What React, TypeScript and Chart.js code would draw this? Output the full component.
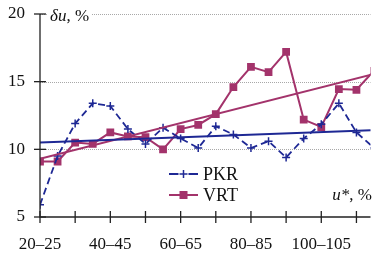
import React, { useEffect, useRef } from 'react';
import { Chart, registerables } from 'chart.js';

Chart.register(...registerables);

const categories = [
  '20–25', '25–30', '30–35', '35–40', '40–45', '45–50', '50–55', '55–60', '60–65', '65–70',
  '70–75', '75–80', '80–85', '85–90', '90–95', '95–100', '100–105', '105–110', '110–115', '115–120',
];
const pkrValues = [5.9, 9.5, 11.9, 13.4, 13.2, 11.5, 10.4, 11.6, 10.8, 10.1, 11.7, 11.1, 10.1, 10.6, 9.4, 10.8, 11.85, 13.4, 11.25, 10.1];
const vrtValues = [9.1, 9.1, 10.5, 10.4, 11.25, 10.95, 10.9, 10.0, 11.5, 11.8, 12.6, 14.6, 16.1, 15.7, 17.2, 12.2, 11.65, 14.45, 14.4, 15.8];
const pkrTrend = [10.5, 11.41];
const vrtTrend = [9.3, 15.57];
const yTickValues = [5, 10, 15, 20];
const seriesNames = ['PKR', 'VRT'];
const yTitle = ['δu', ', %'];
const xTitle = ['u*', ', %'];

const BLUE = '#1e2894';
const PINK = '#a3336b';
const SERIF = '"Liberation Serif", "DejaVu Serif", serif';
const X_MAX = 18.8;

const toPoints = (vals: number[]) => vals.map((v, i) => ({ x: i, y: v }));
const trendPoints = (t: number[]) => [
  { x: 0, y: t[0] },
  { x: categories.length - 1, y: t[1] },
];

const decor = {
  id: 'decor',
  beforeDatasetsDraw(chart: any) {
    const { ctx, chartArea, scales } = chart;
    const y = scales.y;
    ctx.save();
    ctx.strokeStyle = '#a8a8a8';
    ctx.lineWidth = 1;
    ctx.setLineDash([1, 1]);
    yTickValues.forEach((v) => {
      if (v === y.min) return;
      const py = Math.round(y.getPixelForValue(v)) + 0.5;
      ctx.beginPath();
      ctx.moveTo(chartArea.left, py);
      ctx.lineTo(chartArea.right, py);
      ctx.stroke();
    });
    ctx.restore();
  },
  afterDatasetsDraw(chart: any) {
    const { ctx, chartArea, scales } = chart;
    const x = scales.x;
    const y = scales.y;
    ctx.save();
    ctx.strokeStyle = '#222';
    ctx.lineWidth = 1.3;
    ctx.setLineDash([]);
    // axes
    ctx.beginPath();
    ctx.moveTo(chartArea.left, chartArea.top);
    ctx.lineTo(chartArea.left, chartArea.bottom);
    ctx.lineTo(chartArea.right, chartArea.bottom);
    ctx.stroke();
    // y ticks
    y.ticks.forEach((t: any) => {
      const py = y.getPixelForValue(t.value);
      ctx.beginPath();
      ctx.moveTo(chartArea.left - 6, py);
      ctx.lineTo(chartArea.left + 6, py);
      ctx.stroke();
    });
    // x ticks
    x.ticks.forEach((t: any) => {
      const px = x.getPixelForValue(t.value);
      ctx.beginPath();
      ctx.moveTo(px, chartArea.bottom - 6);
      ctx.lineTo(px, chartArea.bottom + 6);
      ctx.stroke();
    });

    // y title
    ctx.fillStyle = '#111';
    ctx.textBaseline = 'alphabetic';
    ctx.textAlign = 'left';
    ctx.font = `italic 17px ${SERIF}`;
    const yw1 = ctx.measureText(yTitle[0]).width;
    ctx.font = `17px ${SERIF}`;
    const yw2 = ctx.measureText(yTitle[1]).width;
    const ty = chartArea.top + 7;
    const tx = chartArea.left + 10;
    ctx.fillStyle = '#fff';
    ctx.fillRect(tx - 2, ty - 14, yw1 + yw2 + 4, 18);
    ctx.fillStyle = '#111';
    ctx.font = `italic 17px ${SERIF}`;
    ctx.fillText(yTitle[0], tx, ty);
    ctx.font = `17px ${SERIF}`;
    ctx.fillText(yTitle[1], tx + yw1, ty);

    // x title
    ctx.font = `italic 17px ${SERIF}`;
    const xw1 = ctx.measureText(xTitle[0]).width;
    ctx.font = `17px ${SERIF}`;
    const xw2 = ctx.measureText(xTitle[1]).width;
    const xx = 372 - xw1 - xw2;
    const xy = chartArea.bottom - 17;
    ctx.font = `italic 17px ${SERIF}`;
    ctx.fillText(xTitle[0], xx, xy);
    ctx.font = `17px ${SERIF}`;
    ctx.fillText(xTitle[1], xx + xw1, xy);

    // legend
    const lx0 = 169;
    const lx1 = 198;
    const lc = (lx0 + lx1) / 2;
    const ly = [chartArea.bottom - 43, chartArea.bottom - 22];
    // PKR
    ctx.strokeStyle = BLUE;
    ctx.lineWidth = 1.8;
    ctx.beginPath();
    ctx.moveTo(lx0, ly[0]);
    ctx.lineTo(lc - 5, ly[0]);
    ctx.moveTo(lc + 5, ly[0]);
    ctx.lineTo(lx1, ly[0]);
    ctx.stroke();
    ctx.lineWidth = 1.5;
    ctx.beginPath();
    ctx.moveTo(lc - 4, ly[0]);
    ctx.lineTo(lc + 4, ly[0]);
    ctx.moveTo(lc, ly[0] - 4);
    ctx.lineTo(lc, ly[0] + 4);
    ctx.stroke();
    // VRT
    ctx.strokeStyle = PINK;
    ctx.lineWidth = 2;
    ctx.beginPath();
    ctx.moveTo(lx0, ly[1]);
    ctx.lineTo(lx1, ly[1]);
    ctx.stroke();
    ctx.fillStyle = PINK;
    ctx.fillRect(lc - 4, ly[1] - 4, 8, 8);

    ctx.fillStyle = '#111';
    ctx.font = `18px ${SERIF}`;
    ctx.textBaseline = 'middle';
    ctx.fillText(seriesNames[0], 203, ly[0] + 1);
    ctx.fillText(seriesNames[1], 203, ly[1] + 1);
    ctx.restore();
  },
};

export default function App() {
  const ref = useRef<HTMLCanvasElement>(null);

  useEffect(() => {
    const chart = new Chart(ref.current as HTMLCanvasElement, {
      type: 'line',
      data: {
        datasets: [
          {
            label: 'PKR trend',
            data: trendPoints(pkrTrend),
            borderColor: BLUE,
            borderWidth: 2,
            pointRadius: 0,
            fill: false,
          },
          {
            label: 'VRT trend',
            data: trendPoints(vrtTrend),
            borderColor: PINK,
            borderWidth: 2,
            pointRadius: 0,
            fill: false,
          },
          {
            label: seriesNames[0],
            data: toPoints(pkrValues),
            borderColor: BLUE,
            backgroundColor: BLUE,
            borderWidth: 1.8,
            borderDash: [7, 4],
            pointStyle: 'cross',
            pointRadius: 4,
            pointBorderWidth: 1.5,
            pointBorderColor: BLUE,
            fill: false,
          },
          {
            label: seriesNames[1],
            data: toPoints(vrtValues),
            borderColor: PINK,
            backgroundColor: PINK,
            borderWidth: 2,
            pointStyle: 'rect',
            pointRadius: 5.5,
            pointBorderWidth: 0,
            pointBackgroundColor: PINK,
            fill: false,
          },
        ],
      } as any,
      options: {
        responsive: false,
        animation: false,
        devicePixelRatio: 1,
        layout: { padding: { top: 14, left: 0, right: 0, bottom: 0 } },
        plugins: {
          legend: { display: false },
          tooltip: { enabled: false },
        },
        scales: {
          x: {
            type: 'linear',
            min: 0,
            max: X_MAX,
            grid: { display: false, drawTicks: false },
            border: { display: false },
            ticks: {
              stepSize: 2,
              includeBounds: false,
              autoSkip: false,
              maxRotation: 0,
              padding: 17,
              color: '#111',
              font: { family: SERIF, size: 17 },
              callback: (v: any) => (Number.isInteger(v) && v % 4 === 0 ? categories[v] : ''),
            },
            afterFit: (s: any) => {
              s.height = 38;
              s.paddingLeft = 0;
              s.paddingRight = 0;
            },
          },
          y: {
            type: 'linear',
            min: 5,
            max: 20,
            grid: { display: false, drawTicks: false },
            border: { display: false },
            ticks: {
              stepSize: 5,
              padding: 15,
              color: '#111',
              font: { family: SERIF, size: 17 },
            },
            afterFit: (s: any) => {
              s.width = 40;
              s.paddingTop = 0;
              s.paddingBottom = 0;
            },
          },
        },
      } as any,
      plugins: [decor],
    });
    return () => chart.destroy();
  }, []);

  return (
    <div style={{ position: 'absolute', left: 0, top: 0, width: 376, height: 255, background: '#fff' }}>
      <canvas ref={ref} width={376} height={255} style={{ display: 'block', width: 376, height: 255 }} />
    </div>
  );
}
